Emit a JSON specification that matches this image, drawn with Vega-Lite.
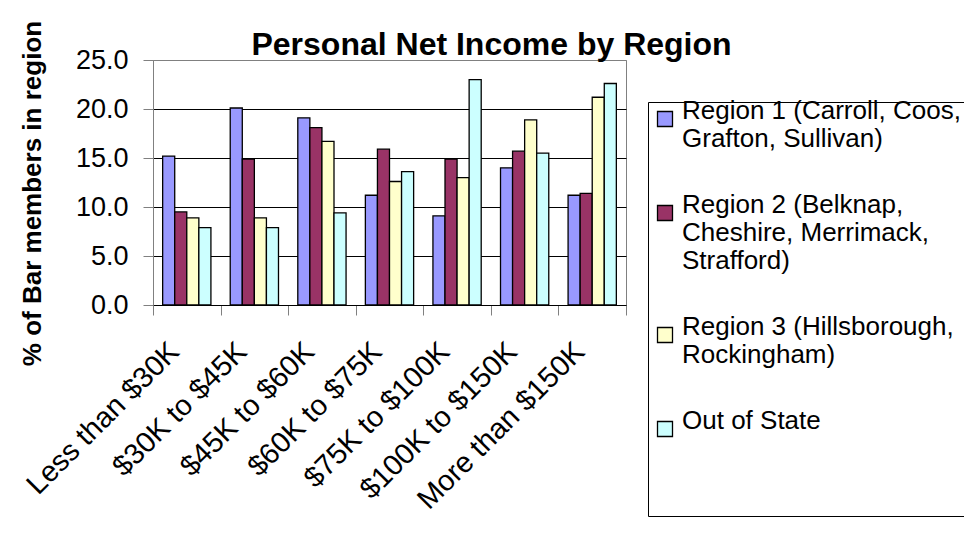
{
  "$schema": "https://vega.github.io/schema/vega-lite/v6.json",
  "autosize": "none",
  "width": 473,
  "height": 245,
  "padding": {"left": 153, "top": 60, "right": 338, "bottom": 230},
  "background": "white",
  "title": {
    "text": "Personal Net Income by Region",
    "font": "Liberation Sans",
    "fontSize": 32,
    "fontWeight": "bold",
    "color": "black",
    "anchor": "middle",
    "baseline": "alphabetic",
    "dx": 102,
    "offset": -67
  },
  "data": {
    "values": [
      {"income": "Less than $30K", "region": "Region 1 (Carroll, Coos, Grafton, Sullivan)", "pct": 15.2},
      {"income": "Less than $30K", "region": "Region 2 (Belknap, Cheshire, Merrimack, Strafford)", "pct": 9.5},
      {"income": "Less than $30K", "region": "Region 3 (Hillsborough, Rockingham)", "pct": 8.9},
      {"income": "Less than $30K", "region": "Out of State", "pct": 7.9},
      {"income": "$30K to $45K", "region": "Region 1 (Carroll, Coos, Grafton, Sullivan)", "pct": 20.1},
      {"income": "$30K to $45K", "region": "Region 2 (Belknap, Cheshire, Merrimack, Strafford)", "pct": 14.9},
      {"income": "$30K to $45K", "region": "Region 3 (Hillsborough, Rockingham)", "pct": 8.9},
      {"income": "$30K to $45K", "region": "Out of State", "pct": 7.9},
      {"income": "$45K to $60K", "region": "Region 1 (Carroll, Coos, Grafton, Sullivan)", "pct": 19.1},
      {"income": "$45K to $60K", "region": "Region 2 (Belknap, Cheshire, Merrimack, Strafford)", "pct": 18.1},
      {"income": "$45K to $60K", "region": "Region 3 (Hillsborough, Rockingham)", "pct": 16.7},
      {"income": "$45K to $60K", "region": "Out of State", "pct": 9.4},
      {"income": "$60K to $75K", "region": "Region 1 (Carroll, Coos, Grafton, Sullivan)", "pct": 11.2},
      {"income": "$60K to $75K", "region": "Region 2 (Belknap, Cheshire, Merrimack, Strafford)", "pct": 15.9},
      {"income": "$60K to $75K", "region": "Region 3 (Hillsborough, Rockingham)", "pct": 12.6},
      {"income": "$60K to $75K", "region": "Out of State", "pct": 13.6},
      {"income": "$75K to $100K", "region": "Region 1 (Carroll, Coos, Grafton, Sullivan)", "pct": 9.1},
      {"income": "$75K to $100K", "region": "Region 2 (Belknap, Cheshire, Merrimack, Strafford)", "pct": 14.9},
      {"income": "$75K to $100K", "region": "Region 3 (Hillsborough, Rockingham)", "pct": 13.0},
      {"income": "$75K to $100K", "region": "Out of State", "pct": 23.0},
      {"income": "$100K to $150K", "region": "Region 1 (Carroll, Coos, Grafton, Sullivan)", "pct": 14.0},
      {"income": "$100K to $150K", "region": "Region 2 (Belknap, Cheshire, Merrimack, Strafford)", "pct": 15.7},
      {"income": "$100K to $150K", "region": "Region 3 (Hillsborough, Rockingham)", "pct": 18.9},
      {"income": "$100K to $150K", "region": "Out of State", "pct": 15.5},
      {"income": "More than $150K", "region": "Region 1 (Carroll, Coos, Grafton, Sullivan)", "pct": 11.2},
      {"income": "More than $150K", "region": "Region 2 (Belknap, Cheshire, Merrimack, Strafford)", "pct": 11.4},
      {"income": "More than $150K", "region": "Region 3 (Hillsborough, Rockingham)", "pct": 21.2},
      {"income": "More than $150K", "region": "Out of State", "pct": 22.6}
    ]
  },
  "mark": {"type": "bar", "stroke": "black", "strokeWidth": 1.3},
  "encoding": {
    "x": {
      "field": "income",
      "type": "nominal",
      "sort": null,
      "scale": {"paddingInner": 0, "paddingOuter": 0},
      "axis": {
        "title": null,
        "labelAngle": -45,
        "labelAlign": "right",
        "labelBaseline": "alphabetic",
        "labelFontSize": 29,
        "labelFont": "Liberation Sans",
        "labelColor": "black",
        "labelOffset": -6.5,
        "labelPadding": 38,
        "labelLimit": 400,
        "tickBand": "extent",
        "tickSize": 10,
        "tickColor": "#808080",
        "domainColor": "#000000",
        "grid": false
      }
    },
    "xOffset": {
      "field": "region",
      "type": "nominal",
      "sort": null,
      "scale": {"paddingInner": 0, "paddingOuter": 0.8}
    },
    "y": {
      "field": "pct",
      "type": "quantitative",
      "scale": {"domain": [0, 25], "nice": false},
      "axis": {
        "title": "% of Bar members in region",
        "titleFont": "Liberation Sans",
        "titleFontSize": 26,
        "titleFontWeight": "bold",
        "titleColor": "black",
        "titlePadding": 30,
        "titleY": 133,
        "values": [0, 5, 10, 15, 20, 25],
        "format": ".1f",
        "labelFontSize": 27,
        "labelFont": "Liberation Sans",
        "labelColor": "black",
        "labelPadding": 15,
        "tickSize": 10,
        "tickColor": "#808080",
        "domainColor": "#808080",
        "grid": true,
        "gridColor": {"condition": {"test": "datum.value == 25", "value": "#808080"}, "value": "#000000"},
        "gridOpacity": 1
      }
    },
    "color": {
      "field": "region",
      "type": "nominal",
      "sort": null,
      "scale": {
        "domain": [
          "Region 1 (Carroll, Coos, Grafton, Sullivan)",
          "Region 2 (Belknap, Cheshire, Merrimack, Strafford)",
          "Region 3 (Hillsborough, Rockingham)",
          "Out of State"
        ],
        "range": ["#9999FF", "#993366", "#FFFFCC", "#CCFFFF"]
      },
      "legend": {
        "title": " ",
        "titleOrient": "bottom",
        "titleFontSize": 10,
        "titlePadding": 63,
        "orient": "none",
        "legendX": 495,
        "legendY": 42,
        "strokeColor": "black",
        "fillColor": "white",
        "padding": 4,
        "symbolType": "square",
        "symbolSize": 225,
        "symbolStrokeColor": "black",
        "symbolStrokeWidth": 1.3,
        "symbolOpacity": 1,
        "labelFont": "Liberation Sans",
        "labelFontSize": 26,
        "labelColor": "black",
        "labelOffset": 4,
        "labelLimit": 400,
        "labelBaseline": "alphabetic",
        "rowPadding": 40,
        "labelExpr": "datum.label == 'Region 1 (Carroll, Coos, Grafton, Sullivan)' ? ['Region 1 (Carroll, Coos,', 'Grafton, Sullivan)'] : datum.label == 'Region 2 (Belknap, Cheshire, Merrimack, Strafford)' ? ['Region 2 (Belknap,', 'Cheshire, Merrimack,', 'Strafford)'] : datum.label == 'Region 3 (Hillsborough, Rockingham)' ? ['Region 3 (Hillsborough,', 'Rockingham)'] : datum.label"
      }
    }
  },
  "config": {
    "view": {"stroke": "#808080", "strokeWidth": 1}
  }
}
